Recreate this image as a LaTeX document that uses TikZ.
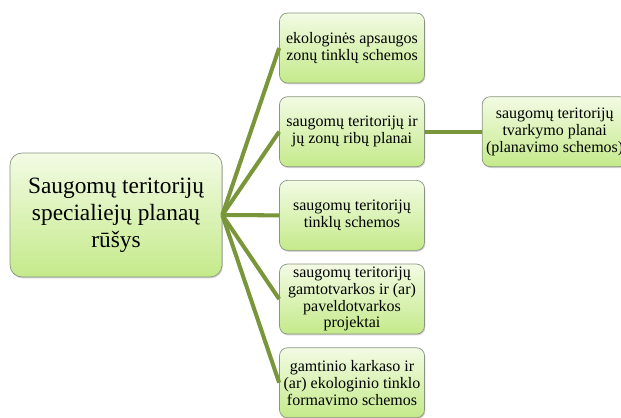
\documentclass[tikz,border=0pt]{standalone}
\usepackage{fontspec}
\setmainfont{Liberation Serif}
\usetikzlibrary{positioning,shadows}

\definecolor{boxtop}{HTML}{F3FBE4}
\definecolor{boxbottom}{HTML}{C4EA8A}
\definecolor{boxline}{HTML}{8A9580}
\definecolor{branch}{HTML}{7A963A}

\begin{document}
\begin{tikzpicture}[x=0.02cm, y=-0.02cm]
      \tikzstyle{plan}=[rectangle, rounded corners=0.16cm, draw=boxline, thin, top color=boxtop, bottom color=boxbottom, drop shadow={opacity=0.35, shadow xshift=0.5pt, shadow yshift=-0.8pt}]
      \tikzstyle{kind}=[plan, minimum width=2.9cm, inner xsep=0.04cm, inner ysep=1pt, minimum height=1.4cm, align=center, font=\fontsize{9.1}{9.6}\selectfont, node distance=0.26cm]
      \tikzstyle{root}=[plan, rounded corners=0.24cm, minimum width=4.24cm, inner sep=0.12cm, minimum height=2.48cm, align=center, font=\fontsize{13.3}{15.3}\selectfont]
      \tikzstyle{connect}=[draw=branch, line width=2.3pt]

      \useasboundingbox (0,0) rectangle (621,418);

      \node[root] (rusys) at (116,215) {Saugomų teritorijų\\ specialiejų planaų\\ rūšys};

      \node[kind] (ekozonos) at (352,48) {ekologinės apsaugos\\ zonų tinklų schemos};
      \node[kind] (ribos) [below=of ekozonos] {saugomų teritorijų ir\\ jų zonų ribų planai};
      \node[kind] (tinklai) [below=of ribos] {saugomų teritorijų\\ tinklų schemos};
      \node[kind] (projektai) [below=of tinklai] {saugomų teritorijų\\ gamtotvarkos ir (ar)\\ paveldotvarkos\\ projektai};
      \node[kind] (karkasas) [below=of projektai] {gamtinio karkaso ir\\ (ar) ekologinio tinklo\\ formavimo schemos};
      \node[kind, node distance=1.14cm] (tvarkymas) [right=of ribos] {saugomų teritorijų\\ tvarkymo planai\\ (planavimo schemos)};

      \foreach \n in {ekozonos, ribos, tinklai, projektai, karkasas}
        \path (rusys.east) edge [connect] (\n.west);
      \path (ribos) edge [connect] (tvarkymas);
    \end{tikzpicture}
\end{document}
